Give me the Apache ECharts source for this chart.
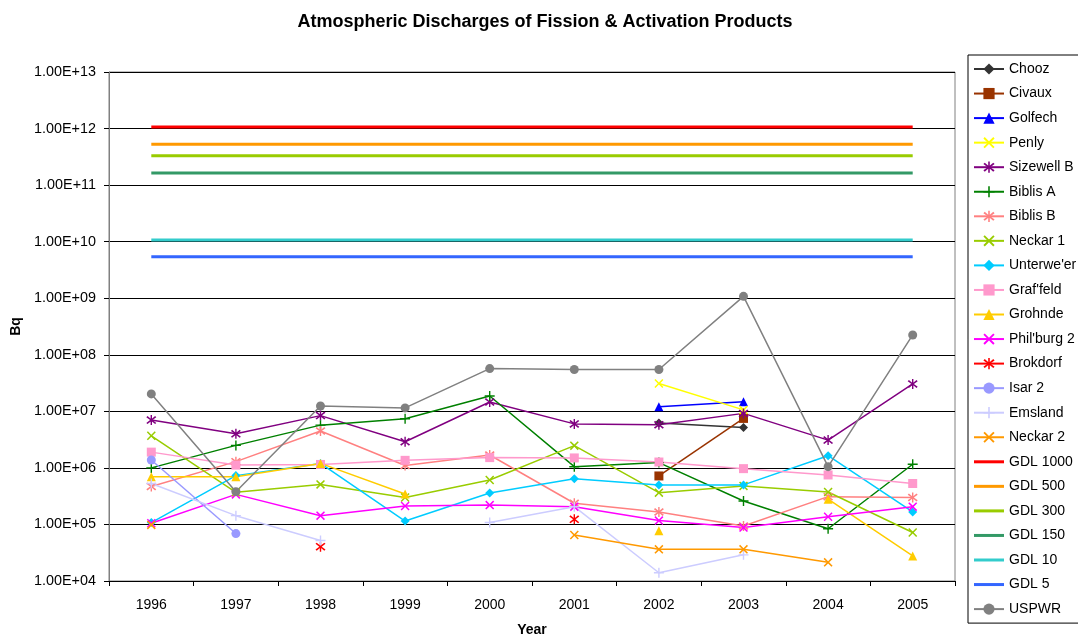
<!DOCTYPE html>
<html>
<head>
<meta charset="utf-8">
<script src="https://cdn.jsdelivr.net/npm/echarts@6/dist/echarts.min.js"></script>
<style>
  html, body { margin: 0; padding: 0; background: #fff; }
  #chart { width: 1078px; height: 637px; }
</style>
</head>
<body>
<div id="chart"></div>
<script>
// categories
const years = ["1996", "1997", "1998", "1999", "2000", "2001", "2002", "2003", "2004", "2005"];

// plant discharges (Bq), null = no value
const chooz     = [null, null, null, null, null, null, 6.2e6, 5.2e6, null, null];
const civaux    = [null, null, null, null, null, null, 7.2e5, 7.5e6, null, null];
const golfech   = [null, null, null, null, null, null, 1.21e7, 1.48e7, null, null];
const penly     = [null, null, null, null, null, null, 3.1e7, 1.06e7, null, null];
const sizewellB = [7.0e6, 4.0e6, 8.4e6, 2.9e6, 1.46e7, 6.0e6, 5.8e6, 9.2e6, 3.1e6, 3.05e7];
const biblisA   = [1.0e6, 2.5e6, 5.7e6, 7.4e6, 1.87e7, 1.05e6, 1.24e6, 2.6e5, 8.4e4, 1.16e6];
const biblisB   = [4.7e5, 1.29e6, 4.5e6, 1.1e6, 1.69e6, 2.37e5, 1.66e5, 9.4e4, 3.1e5, 3.0e5];
const neckar1   = [3.7e6, 3.7e5, 5.1e5, 3.0e5, 6.1e5, 2.47e6, 3.65e5, 4.8e5, 3.75e5, 7.2e4];
const unterwes  = [1.08e5, 7.3e5, 1.2e6, 1.15e5, 3.6e5, 6.4e5, 5.0e5, 5.0e5, 1.64e6, 1.66e5];
const grafeld   = [1.9e6, 1.12e6, 1.15e6, 1.36e6, 1.52e6, 1.5e6, 1.27e6, 9.7e5, 7.5e5, 5.3e5];
const grohnde   = [7.0e5, 7.0e5, 1.2e6, 3.45e5, null, null, 7.7e4, null, 2.8e5, 2.77e4];
const philburg2 = [1.05e5, 3.4e5, 1.43e5, 2.12e5, 2.2e5, 2.06e5, 1.17e5, 8.8e4, 1.37e5, 2.06e5];
const brokdorf  = [null, null, 4.05e4, null, null, 1.23e5, null, null, null, null];
const isar2     = [1.38e6, 6.9e4, null, null, null, null, null, null, null, null];
const emsland   = [5.3e5, 1.43e5, 5.2e4, null, 1.08e5, 2.06e5, 1.4e4, 2.9e4, null, null];
const neckar2   = [9.8e4, null, null, null, null, 6.5e4, 3.63e4, 3.63e4, 2.14e4, null];
const uspwr     = [2.03e7, 3.8e5, 1.24e7, 1.15e7, 5.7e7, 5.5e7, 5.5e7, 1.08e9, 1.05e6, 2.24e8];

// guideline levels (Bq)
const gdlNames  = ["GDL 1000", "GDL 500", "GDL 300", "GDL 150", "GDL 10", "GDL 5"];
const gdlValues = [1.07e12, 5.3e11, 3.3e11, 1.64e11, 1.07e10, 5.4e9];
const gdlColors = ["#FF0000", "#FF9900", "#99CC00", "#339966", "#33CCCC", "#3366FF"];

const X_PATH = "path://M0,1.2 L1.2,0 L5,3.8 L8.8,0 L10,1.2 L6.2,5 L10,8.8 L8.8,10 L5,6.2 L1.2,10 L0,8.8 L3.8,5 Z";
const PLUS_PATH = "path://M4.3,0 L5.7,0 L5.7,4.3 L10,4.3 L10,5.7 L5.7,5.7 L5.7,10 L4.3,10 L4.3,5.7 L0,5.7 L0,4.3 L4.3,4.3 Z";
const STAR_PATH = "path://M0,2.2 L1.2,1 L5,4.2 L8.8,1 L10,2.2 L6.2,5 L10,7.8 L8.8,9 L5,5.8 L1.2,9 L0,7.8 L3.8,5 Z M4.3,0 L5.7,0 L5.7,10 L4.3,10 Z";
const BAR_ICON = "path://M0,0 L30,0 L30,3 L0,3 Z";

const FONT = "Liberation Sans, Arial, sans-serif";

const chart = echarts.init(document.getElementById("chart"));

const plant = (name, data, color, symbol, size) => ({
  name: name,
  type: "line",
  data: data,
  symbol: symbol,
  symbolSize: size || 8,
  showAllSymbol: true,
  connectNulls: false,
  lineStyle: { color: color, width: 1.5 },
  itemStyle: { color: color },
  emphasis: { disabled: true },
  animation: false,
});

const series = [
  plant("Chooz", chooz, "#333333", "diamond", 9),
  plant("Civaux", civaux, "#993300", "rect", 9),
  plant("Golfech", golfech, "#0000FF", "triangle", 9),
  plant("Penly", penly, "#FFFF00", X_PATH, 9),
  plant("Sizewell B", sizewellB, "#800080", STAR_PATH, 10),
  plant("Biblis A", biblisA, "#008000", PLUS_PATH, 10),
  plant("Biblis B", biblisB, "#FF8080", STAR_PATH, 10),
  plant("Neckar 1", neckar1, "#99CC00", X_PATH, 9),
  plant("Unterwe'er", unterwes, "#00CCFF", "diamond", 9),
  plant("Graf'feld", grafeld, "#FF99CC", "rect", 9),
  plant("Grohnde", grohnde, "#FFCC00", "triangle", 9),
  plant("Phil'burg 2", philburg2, "#FF00FF", X_PATH, 9),
  plant("Brokdorf", brokdorf, "#FF0000", STAR_PATH, 10),
  plant("Isar 2", isar2, "#9999FF", "circle", 9),
  plant("Emsland", emsland, "#CCCCFF", PLUS_PATH, 10),
  plant("Neckar 2", neckar2, "#FF9900", X_PATH, 9),
];

gdlNames.forEach((name, i) => {
  series.push({
    name: name,
    type: "line",
    data: years.map(() => gdlValues[i]),
    symbol: "none",
    lineStyle: { color: gdlColors[i], width: 3 },
    itemStyle: { color: gdlColors[i] },
    emphasis: { disabled: true },
    animation: false,
  });
});

series.push(plant("USPWR", uspwr, "#808080", "circle", 9));

const legendData = series.map((s) =>
  gdlNames.includes(s.name) ? { name: s.name, icon: BAR_ICON } : { name: s.name }
);

const sci = (v) => {
  const p = Math.round(Math.log10(v));
  const e = (p < 10 ? "0" : "") + p;
  return "1.00E+" + e;
};

const option = {
  backgroundColor: "#fff",
  textStyle: { fontFamily: FONT },
  title: {
    text: "Atmospheric Discharges of Fission & Activation Products",
    left: 540,
    textAlign: "center",
    top: 8,
    textStyle: { fontSize: 18, fontWeight: "bold", color: "#000", fontFamily: FONT },
  },
  legend: {
    orient: "vertical",
    left: 968,
    top: 55,
    padding: [7, 30, 7, 5],
    itemWidth: 30,
    itemHeight: 14,
    itemGap: 10.55,
    borderColor: "#000",
    borderWidth: 1,
    selectedMode: false,
    textStyle: { fontSize: 14, color: "#000", fontFamily: FONT },
    data: legendData,
  },
  grid: {
    left: 109,
    right: 123,
    top: 72,
    bottom: 56,
    outerBoundsMode: "none",
    containLabel: false,
    show: true,
    borderColor: "#808080",
    borderWidth: 1,
  },
  xAxis: {
    type: "category",
    data: years,
    boundaryGap: true,
    name: "Year",
    nameLocation: "middle",
    nameGap: 42,
    nameTextStyle: { fontSize: 14, fontWeight: "bold", color: "#000" },
    axisLine: { lineStyle: { color: "#000", width: 1 } },
    axisTick: { show: true, length: 5, lineStyle: { color: "#000" } },
    axisLabel: { fontSize: 14, color: "#000", margin: 17 },
    splitLine: { show: false },
  },
  yAxis: {
    type: "log",
    logBase: 10,
    min: 1e4,
    max: 1e13,
    name: "Bq",
    nameLocation: "middle",
    nameRotate: 90,
    nameGap: 84,
    nameTextStyle: { fontSize: 14, fontWeight: "bold", color: "#000" },
    axisLine: { show: true, lineStyle: { color: "#808080", width: 1 } },
    axisTick: { show: true, length: 5, lineStyle: { color: "#000" } },
    axisLabel: {
      fontSize: 14.4,
      color: "#000",
      margin: 13,
      formatter: sci,
    },
    splitLine: { show: true, lineStyle: { color: "#000", width: 1 } },
  },
  series: series,
};

chart.setOption(option);
</script>
</body>
</html>
